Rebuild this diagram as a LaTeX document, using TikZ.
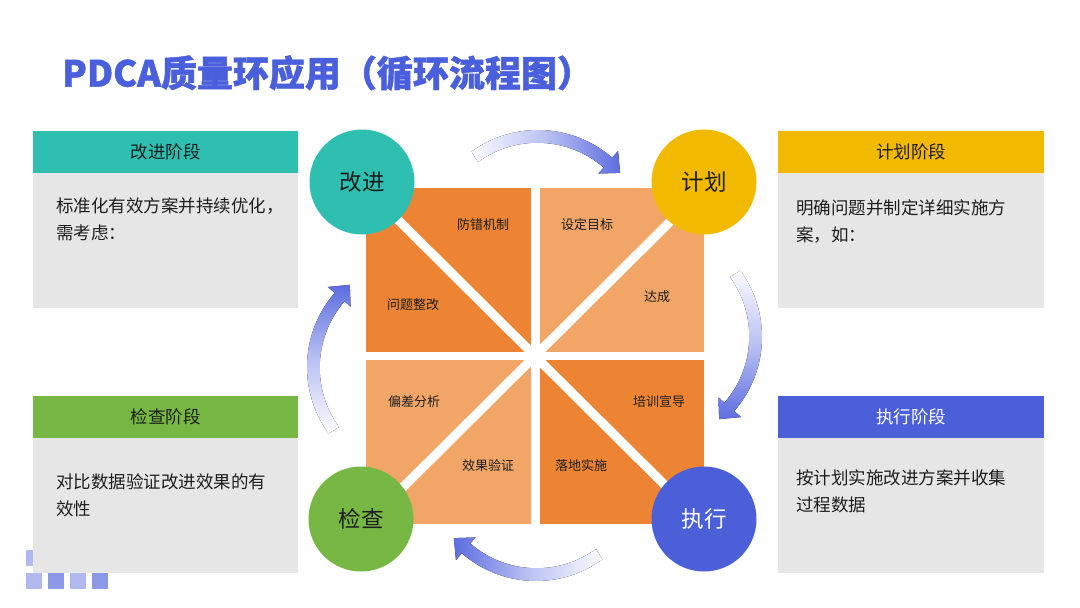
\documentclass[tikz,border=0pt]{standalone}
\usepackage{fontspec}
\setmainfont{Noto Sans CJK SC}
\usetikzlibrary{calc}
\definecolor{titleblue}{HTML}{4A5FDB}
\definecolor{tealc}{HTML}{2EBFB0}
\definecolor{yellowc}{HTML}{F1B900}
\definecolor{greenc}{HTML}{76B843}
\definecolor{bluec}{HTML}{4B5FD9}
\definecolor{panelgray}{HTML}{E6E6E6}
\definecolor{orangedark}{HTML}{EC8433}
\definecolor{orangelight}{HTML}{F1A668}
\definecolor{textdark}{HTML}{1E1E1E}
\definecolor{arrowlight}{HTML}{FBFBFF}
\definecolor{arrowmid}{HTML}{B9C1F2}
\definecolor{arrowdark}{HTML}{5D6DE0}
\definecolor{decolight}{HTML}{B0BAF0}
\definecolor{decodark}{HTML}{8C99E6}
\newcommand{\cyclearrow}[5]{%
  \fill[#5] ($(#1,#2)+(#3:113)$) arc[start angle=#3, end angle=#4, radius=113]
    -- ($(#1,#2)+(#4:122)$) -- ($(#1,#2)+(#4+8.5:108)$) -- ($(#1,#2)+(#4:92)$)
    -- ($(#1,#2)+(#4:100)$) arc[start angle=#4, end angle=#3, radius=101] -- cycle;}
\begin{document}
\begin{tikzpicture}[x=1pt,y=-1pt,
  quad/.style={minimum width=165pt, minimum height=164pt, inner sep=0pt, outer sep=0pt},
  phase/.style={circle, minimum size=105pt, inner sep=0pt, font=\fontsize{22.5}{26}\selectfont},
  qlabel/.style={font=\fontsize{13}{16}\selectfont, text=textdark, inner sep=0pt},
  panelbody/.style={fill=panelgray, minimum width=265pt, minimum height=177pt, anchor=north west, inner sep=0pt, outer sep=0pt},
  panelhead/.style={minimum width=265pt, minimum height=42pt, anchor=north west, inner sep=0pt, outer sep=0pt, font=\fontsize{17.5}{20}\selectfont},
  bodytext/.style={anchor=north west, align=left, inner sep=0pt, font=\fontsize{17.5}{27}\selectfont, text=textdark},
  deco/.style={minimum size=16pt, inner sep=0pt, outer sep=0pt, anchor=north west}]
\useasboundingbox (0,0) rectangle (1080,608);
\fill[white] (0,0) rectangle (1080,608);

% title
\node[anchor=west, inner sep=0pt, font=\fontsize{36}{40}\selectfont\bfseries\addfontfeatures{FakeBold=1.2}, text=titleblue] (title) at (62,73) {PDCA质量环应用（循环流程图）};

% decoration squares
\node[deco, fill=decolight] (d0) at (26,550) {};
\node[deco, fill=decolight] (d1) at (26,573) {};
\node[deco, fill=decodark] (d2) at (48,573) {};
\node[deco, fill=decolight] (d3) at (70,573) {};
\node[deco, fill=decodark] (d4) at (92,573) {};

% panels
\node[panelbody] (pA) at (33,131) {};
\node[panelhead, fill=tealc, text=textdark] (hA) at (33,131) {改进阶段};
\node[bodytext] (tA) at (56,197) {标准化有效方案并持续优化，\\需考虑：};

\node[panelbody, minimum width=266pt] (pP) at (778,131) {};
\node[panelhead, minimum width=266pt, fill=yellowc, text=textdark] (hP) at (778,131) {计划阶段};
\node[bodytext] (tP) at (796,199) {明确问题并制定详细实施方\\案，如：};

\node[panelbody] (pC) at (33,396) {};
\node[panelhead, fill=greenc, text=textdark] (hC) at (33,396) {检查阶段};
\node[bodytext] (tC) at (56,473) {对比数据验证改进效果的有\\效性};

\node[panelbody, minimum width=266pt] (pD) at (778,396) {};
\node[panelhead, minimum width=266pt, fill=bluec, text=white] (hD) at (778,396) {执行阶段};
\node[bodytext] (tD) at (796,469) {按计划实施改进方案并收集\\过程数据};

% cycle arrows
\cyclearrow{538}{243}{234}{311}{left color=arrowlight, right color=arrowdark, middle color=arrowmid}
\cyclearrow{649}{337}{324}{401}{top color=arrowlight, bottom color=arrowdark, middle color=arrowmid}
\cyclearrow{536}{468}{54}{131}{right color=arrowlight, left color=arrowdark, middle color=arrowmid}
\cyclearrow{420}{367}{144}{221}{bottom color=arrowlight, top color=arrowdark, middle color=arrowmid}

% quadrants
\node[quad, fill=orangedark] (q1) at (448.5,270) {};
\node[quad, fill=orangelight, minimum width=164pt] (q2) at (622,270) {};
\node[quad, fill=orangelight] (q3) at (448.5,442) {};
\node[quad, fill=orangedark, minimum width=164pt] (q4) at (622,442) {};
\draw[white, line width=9pt] (q1.north west) -- (q4.south east);
\draw[white, line width=9pt] (q2.north east) -- (q3.south west);

\node[qlabel] (l1) at (483,225) {防错机制};
\node[qlabel] (l2) at (413,305) {问题整改};
\node[qlabel] (l3) at (587,225) {设定目标};
\node[qlabel] (l4) at (657,297) {达成};
\node[qlabel] (l5) at (414,402) {偏差分析};
\node[qlabel] (l6) at (488,466) {效果验证};
\node[qlabel] (l7) at (659,402) {培训宣导};
\node[qlabel] (l8) at (581,466) {落地实施};

% phase circles
\node[phase, fill=tealc, text=textdark] (act) at (362,182) {改进};
\node[phase, fill=yellowc, text=textdark] (plan) at (704,182) {计划};
\node[phase, fill=greenc, text=textdark] (check) at (361,519) {检查};
\node[phase, fill=bluec, text=white] (do) at (704,519) {执行};
\end{tikzpicture}
\end{document}
